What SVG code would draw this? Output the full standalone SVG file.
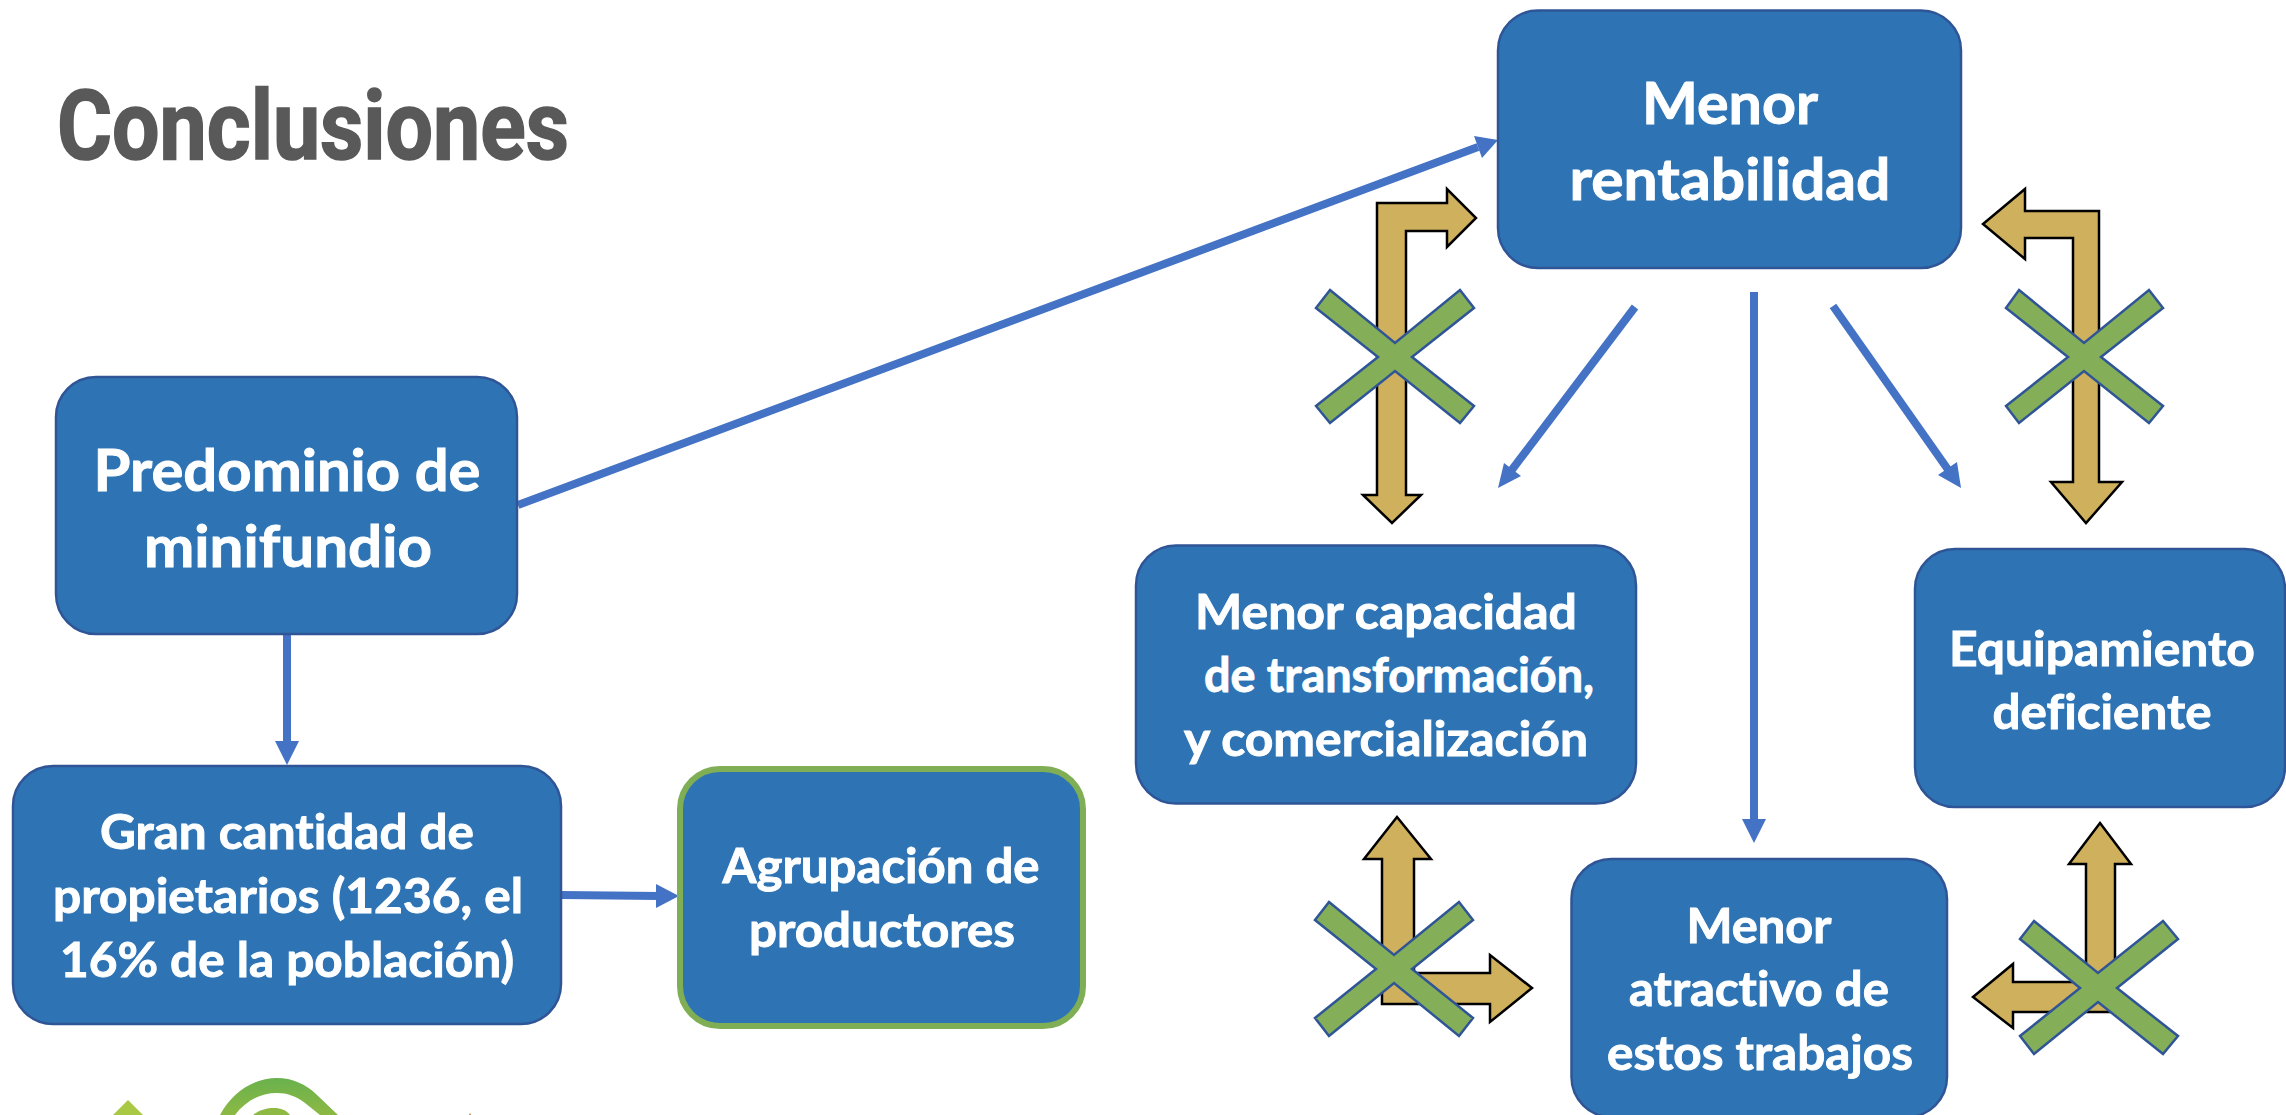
<svg xmlns="http://www.w3.org/2000/svg" width="2286" height="1115" viewBox="0 0 2286 1115">
<style>
.box{fill:#2E74B5;stroke:#2F5597;stroke-width:2.5}
.t{font-family:"Lato","Liberation Sans",sans-serif;font-weight:700;fill:#fff;stroke:#fff;stroke-width:.9;text-anchor:middle;font-variant-ligatures:none}
.f{fill:#CFB05C;stroke:#000;stroke-width:2.5;stroke-linejoin:miter}
.x{fill:#85AE58;stroke:#2F5597;stroke-width:2.5;stroke-linejoin:miter}
.c{fill:none;stroke:#4472C4;stroke-width:8}
.h{fill:#4472C4}
</style>
<defs>
<linearGradient id="lg" x1="0" y1="0" x2="0" y2="1"><stop offset="0" stop-color="#69B14D"/><stop offset="1" stop-color="#8DB944"/></linearGradient>
</defs>
<rect width="2286" height="1115" fill="#fff"/>
<text id="title" x="57" y="158.500" font-family="Roboto,sans-serif" font-weight="700" font-size="97" fill="#595959" stroke="#595959" stroke-width="1.6" textLength="512" lengthAdjust="spacingAndGlyphs" style="font-variant-ligatures:none">Conclusiones</text>

<g id="connectors">
<line class="c" x1="518" y1="505" x2="1478" y2="147"/><polygon class="h" points="1498,140 1474,136 1482,158"/>
<line class="c" x1="287" y1="634" x2="287" y2="745"/><polygon class="h" points="287,765 275,741 299,741"/>
<line class="c" x1="561" y1="895" x2="660" y2="896"/><polygon class="h" points="679,896 656,884 656,908"/>
<line class="c" x1="1635" y1="307" x2="1511" y2="471"/><polygon class="h" points="1498,488 1504,463 1521,476"/>
<line class="c" x1="1754" y1="292" x2="1754" y2="822"/><polygon class="h" points="1754,843 1742,819 1766,819"/>
<line class="c" x1="1833" y1="306" x2="1949" y2="471"/><polygon class="h" points="1961,488 1938,475 1957,462"/>
</g>

<g id="bent1"><polygon class="f" points="1377,203 1447,203 1447,189 1476,218 1447,247 1447,231 1406,231 1406,495 1421,495 1392,523 1363,495 1377,495"/></g>
<g id="bent2"><polygon class="f" points="2099,211 2025,211 2025,189 1983,224 2025,259 2025,238 2073,238 2073,482 2051,482 2086,523 2122,482 2099,482"/></g>
<g id="bent3"><polygon class="f" points="1397,817 1431,859 1414,859 1414,973 1490,973 1490,955 1532,988 1490,1022 1490,1004 1382,1004 1382,859 1364,859"/></g>
<g id="bent4"><polygon class="f" points="2100,823 2131,864 2115,864 2115,1012 2013,1012 2013,1028 1973,997 2013,964 2013,982 2086,982 2086,864 2069,864"/></g>

<g id="x1"><polygon class="x" points="1330,290 1395,343 1460,290 1474,308 1412,357 1474,406 1460,423 1395,371 1330,423 1316,406 1378,357 1316,308"/></g>
<g id="x2"><polygon class="x" points="2019,290 2084,343 2149,290 2163,308 2101,357 2163,406 2149,423 2084,371 2019,423 2006,406 2068,357 2006,308"/></g>
<g id="x3"><polygon class="x" points="1329,902 1394,955 1459,902 1473,920 1412,969 1473,1018 1459,1036 1394,983 1329,1036 1315,1018 1376,969 1315,920"/></g>
<g id="x4"><polygon class="x" points="2034,921 2098,973 2163,921 2178,939 2117,988 2178,1036 2163,1054 2098,1002 2034,1054 2020,1036 2080,988 2020,939"/></g>

<g id="n-rentabilidad"><rect class="box" x="1498" y="10.500" width="463" height="257.500" rx="40"/>
<text class="t" font-size="57" x="1730" y="124" textLength="176" lengthAdjust="spacingAndGlyphs">Menor</text>
<text class="t" font-size="57" x="1730" y="200" textLength="321" lengthAdjust="spacingAndGlyphs">rentabilidad</text></g>
<g id="n-predominio"><rect class="box" x="56" y="377" width="461" height="257" rx="40"/>
<text class="t" font-size="57" x="287" y="491" textLength="387" lengthAdjust="spacingAndGlyphs">Predominio de</text>
<text class="t" font-size="57" x="288" y="567" textLength="288" lengthAdjust="spacingAndGlyphs">minifundio</text></g>
<g id="n-gran"><rect class="box" x="13" y="766" width="548" height="258" rx="40"/>
<text class="t" font-size="48" x="287" y="849" textLength="374" lengthAdjust="spacingAndGlyphs">Gran cantidad de</text>
<text class="t" font-size="48" x="288" y="913" textLength="470" lengthAdjust="spacingAndGlyphs">propietarios (1236, el</text>
<text class="t" font-size="48" x="287" y="977" textLength="454" lengthAdjust="spacingAndGlyphs">16% de la población)</text></g>
<g id="n-agrupacion"><rect x="680" y="769" width="403" height="257" rx="40" fill="#2E74B5" stroke="#7FAE55" stroke-width="6"/>
<text class="t" font-size="48" x="881" y="883" textLength="317" lengthAdjust="spacingAndGlyphs">Agrupación de</text>
<text class="t" font-size="48" x="882" y="947" textLength="266" lengthAdjust="spacingAndGlyphs">productores</text></g>
<g id="n-capacidad"><rect class="box" x="1136" y="545.500" width="500" height="258" rx="40"/>
<text class="t" font-size="48" x="1386" y="629" textLength="382" lengthAdjust="spacingAndGlyphs">Menor capacidad</text>
<text class="t" font-size="48" x="1399" y="692" textLength="390" lengthAdjust="spacingAndGlyphs">de transformación,</text>
<text class="t" font-size="48" x="1386" y="756" textLength="404" lengthAdjust="spacingAndGlyphs">y comercialización</text></g>
<g id="n-equipamiento"><rect class="box" x="1915" y="549" width="370" height="258" rx="40"/>
<text class="t" font-size="48" x="2102" y="666" textLength="306" lengthAdjust="spacingAndGlyphs">Equipamiento</text>
<text class="t" font-size="48" x="2102" y="729" textLength="219" lengthAdjust="spacingAndGlyphs">deficiente</text></g>
<g id="n-atractivo"><rect class="box" x="1571.500" y="859" width="375.500" height="258" rx="40"/>
<text class="t" font-size="48" x="1759" y="943" textLength="145" lengthAdjust="spacingAndGlyphs">Menor</text>
<text class="t" font-size="48" x="1759" y="1006" textLength="260" lengthAdjust="spacingAndGlyphs">atractivo de</text>
<text class="t" font-size="48" x="1760" y="1070" textLength="306" lengthAdjust="spacingAndGlyphs">estos trabajos</text></g>

<g id="logo">
<polygon points="128,1100 113,1115 143,1115" fill="#A9C843"/>
<path d="M220,1115C232,1092 254,1078 277,1078C292,1078 306,1084 317,1095L338,1115L320,1115L305,1103C296,1096 287,1093 277,1093C259,1093 245,1102 235,1115Z" fill="url(#lg)"/>
<path d="M253,1115C259,1110 267,1108 274,1108C281,1108 286,1110 290,1115Z" fill="#8DB944"/>
<polygon points="469,1115 470,1113 471,1115" fill="#B5733A"/>
</g>
</svg>
